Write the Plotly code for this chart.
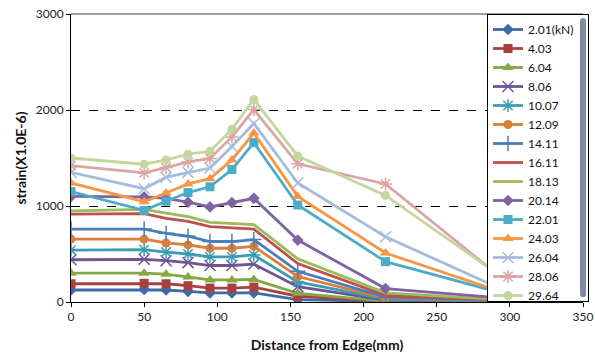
import plotly.graph_objects as go

distance = [0, 50, 65, 80, 95, 110, 125, 155, 215, 305]
loads = ["2.01(kN)", "4.03", "6.04", "8.06", "10.07", "12.09", "14.11", "16.11",
         "18.13", "20.14", "22.01", "24.03", "26.04", "28.06", "29.64"]

s_2_01 = [125, 130, 125, 110, 95, 95, 95, 25, 5, 3]
s_4_03 = [190, 195, 190, 170, 145, 145, 155, 60, 10, 5]
s_6_04 = [300, 300, 290, 260, 230, 230, 235, 90, 10, 5]
s_8_06 = [440, 445, 430, 410, 380, 380, 395, 160, 20, 5]
s_10_07 = [540, 545, 520, 500, 470, 470, 490, 210, 30, 5]
s_12_09 = [655, 655, 615, 595, 560, 560, 580, 265, 40, 10]
s_14_11 = [760, 760, 715, 685, 630, 630, 650, 320, 50, 10]
s_16_11 = [915, 920, 870, 840, 785, 770, 760, 400, 70, 15]
s_18_13 = [950, 965, 925, 890, 830, 815, 805, 450, 95, 15]
s_20_14 = [1100, 1095, 1080, 1040, 990, 1035, 1080, 645, 140, 30]
s_22_01 = [1150, 955, 1050, 1140, 1200, 1380, 1660, 1010, 420, 50]
s_24_03 = [1240, 1045, 1135, 1230, 1285, 1480, 1760, 1100, 510, 50]
s_26_04 = [1350, 1180, 1300, 1350, 1395, 1620, 1860, 1240, 680, 60]
s_28_06 = [1420, 1345, 1400, 1460, 1495, 1720, 2005, 1440, 1230, 120]
s_29_64 = [1500, 1435, 1480, 1540, 1570, 1800, 2110, 1520, 1110, 150]

series = [s_2_01, s_4_03, s_6_04, s_8_06, s_10_07, s_12_09, s_14_11, s_16_11,
          s_18_13, s_20_14, s_22_01, s_24_03, s_26_04, s_28_06, s_29_64]

colors = ["#3E6BA6", "#A8413E", "#84A843", "#6E5492", "#3A9DB4", "#DB7E38",
          "#4A7EBB", "#C0504D", "#9BBB59", "#8064A2", "#4BACC6", "#F79646",
          "#A6BBDC", "#DBA5A4", "#C3D69E"]
symbols = ["diamond", "square", "triangle-up", "x-thin", "asterisk", "circle",
           "cross-thin", None, None, "diamond", "square", "triangle-up",
           "x-thin", "asterisk", "circle"]

fig = go.Figure()
for name, vals, col, sym in zip(loads, series, colors, symbols):
    if sym is None:
        mode = "lines"
        marker = dict()
    elif sym in ("x-thin", "asterisk", "cross-thin"):
        mode = "lines+markers"
        marker = dict(symbol=sym, size=11, color=col, line=dict(color=col, width=1.5))
    else:
        mode = "lines+markers"
        marker = dict(symbol=sym, size=9 if sym != "triangle-up" else 10, color=col,
                      line=dict(width=0))
    fig.add_trace(go.Scatter(x=distance, y=vals, name=name, mode=mode,
                             line=dict(color=col, width=2.8), marker=marker))

fig.update_layout(
    width=595, height=358,
    margin=dict(l=71, r=12, t=14, b=56, autoexpand=False),
    paper_bgcolor="white", plot_bgcolor="white",
    font=dict(family="Lato, Liberation Sans, sans-serif", size=12, color="#222"),
    showlegend=True,
    legend=dict(x=0.8125, y=1.0, xanchor="left", yanchor="top",
                bgcolor="white", bordercolor="black", borderwidth=1,
                font=dict(size=12, color="#111"), itemwidth=30,
                tracegroupgap=0),
    xaxis=dict(range=[0, 350], dtick=50, tick0=0, showgrid=False, zeroline=False,
               showline=True, linecolor="black", linewidth=1, automargin=False,
               ticks="outside", ticklen=4, tickcolor="black",
               title=dict(text="<b>Distance from Edge(mm)</b>", font=dict(size=14, color="#111"),
                          standoff=16)),
    yaxis=dict(range=[0, 3000], dtick=1000, tick0=0, showgrid=True, automargin=False,
               gridcolor="black", griddash="dash", gridwidth=1, zeroline=False,
               showline=True, linecolor="black", linewidth=1,
               ticks="outside", ticklen=4, tickcolor="black",
               title=dict(text="<b>strain(X1.0E-6)</b>", font=dict(size=14, color="#111"),
                          standoff=5)),
    shapes=[dict(type="line", xref="paper", yref="paper", x0=0, x1=1, y0=1, y1=1,
                 line=dict(color="#808080", width=1.5), layer="above"),
            dict(type="line", xref="paper", yref="paper", x0=1, x1=1, y0=0, y1=1,
                 line=dict(color="#808080", width=1.5), layer="above")],
)

fig.write_html("out.html")
